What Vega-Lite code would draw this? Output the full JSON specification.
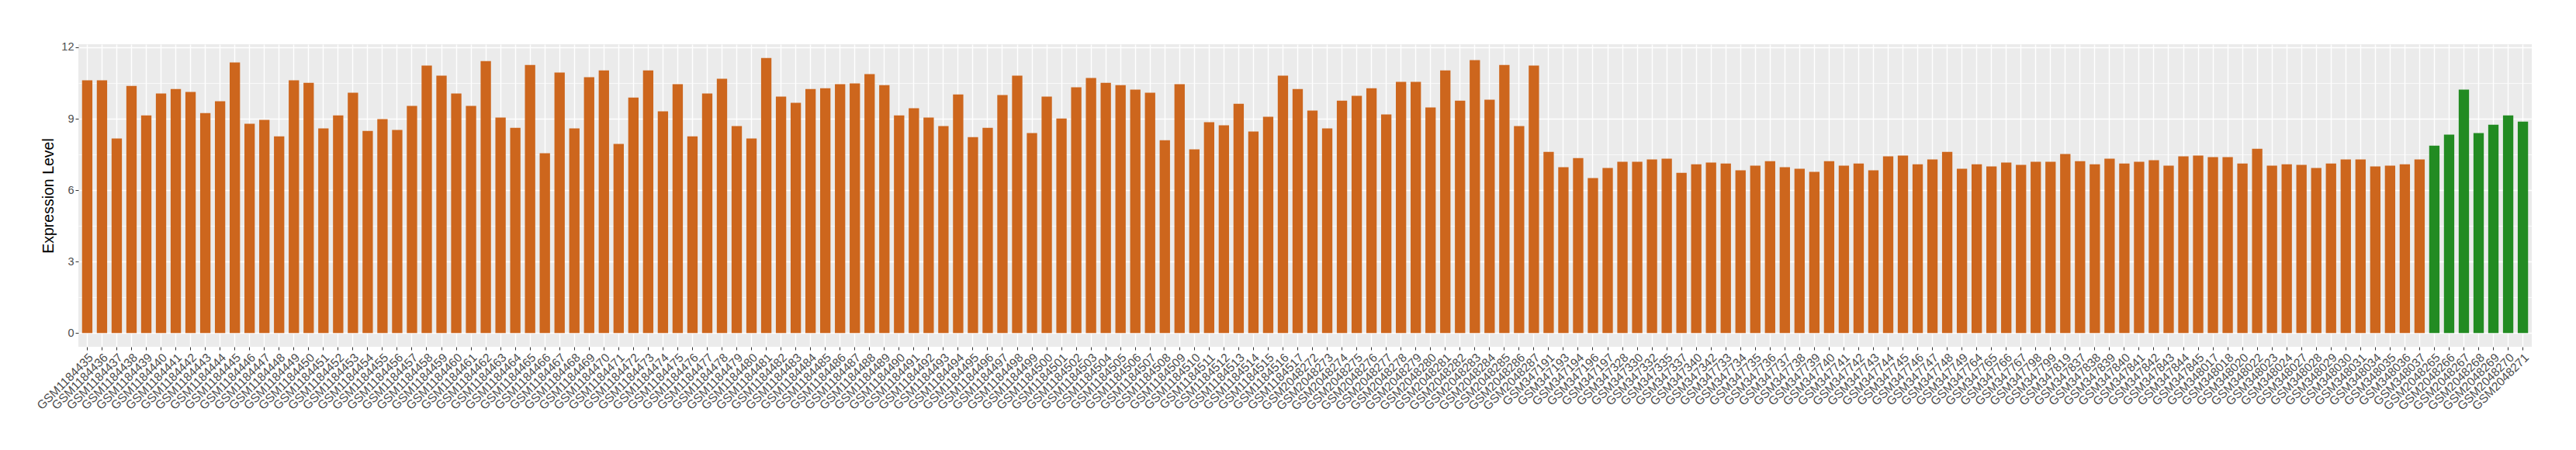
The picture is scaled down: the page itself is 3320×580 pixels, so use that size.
{
  "$schema": "https://vega.github.io/schema/vega-lite/v6.json",
  "autosize": {"type": "none"},
  "padding": {"left": 101, "top": 57, "right": 57, "bottom": 133},
  "width": 3162,
  "height": 390,
  "background": "white",
  "config": {
    "view": {"fill": "#EBEBEB", "stroke": null},
    "font": "Liberation Sans"
  },
  "data": {"values": [
    {"sample": "GSM1184435", "value": 10.61, "group": "A"},
    {"sample": "GSM1184436", "value": 10.61, "group": "A"},
    {"sample": "GSM1184437", "value": 8.17, "group": "A"},
    {"sample": "GSM1184438", "value": 10.38, "group": "A"},
    {"sample": "GSM1184439", "value": 9.14, "group": "A"},
    {"sample": "GSM1184440", "value": 10.06, "group": "A"},
    {"sample": "GSM1184441", "value": 10.25, "group": "A"},
    {"sample": "GSM1184442", "value": 10.12, "group": "A"},
    {"sample": "GSM1184443", "value": 9.24, "group": "A"},
    {"sample": "GSM1184444", "value": 9.73, "group": "A"},
    {"sample": "GSM1184445", "value": 11.36, "group": "A"},
    {"sample": "GSM1184446", "value": 8.79, "group": "A"},
    {"sample": "GSM1184447", "value": 8.95, "group": "A"},
    {"sample": "GSM1184448", "value": 8.26, "group": "A"},
    {"sample": "GSM1184449", "value": 10.61, "group": "A"},
    {"sample": "GSM1184450", "value": 10.51, "group": "A"},
    {"sample": "GSM1184451", "value": 8.59, "group": "A"},
    {"sample": "GSM1184452", "value": 9.14, "group": "A"},
    {"sample": "GSM1184453", "value": 10.09, "group": "A"},
    {"sample": "GSM1184454", "value": 8.49, "group": "A"},
    {"sample": "GSM1184455", "value": 8.98, "group": "A"},
    {"sample": "GSM1184456", "value": 8.53, "group": "A"},
    {"sample": "GSM1184457", "value": 9.54, "group": "A"},
    {"sample": "GSM1184458", "value": 11.23, "group": "A"},
    {"sample": "GSM1184459", "value": 10.81, "group": "A"},
    {"sample": "GSM1184460", "value": 10.06, "group": "A"},
    {"sample": "GSM1184461", "value": 9.54, "group": "A"},
    {"sample": "GSM1184462", "value": 11.42, "group": "A"},
    {"sample": "GSM1184463", "value": 9.05, "group": "A"},
    {"sample": "GSM1184464", "value": 8.62, "group": "A"},
    {"sample": "GSM1184465", "value": 11.26, "group": "A"},
    {"sample": "GSM1184466", "value": 7.55, "group": "A"},
    {"sample": "GSM1184467", "value": 10.94, "group": "A"},
    {"sample": "GSM1184468", "value": 8.59, "group": "A"},
    {"sample": "GSM1184469", "value": 10.74, "group": "A"},
    {"sample": "GSM1184470", "value": 11.03, "group": "A"},
    {"sample": "GSM1184471", "value": 7.94, "group": "A"},
    {"sample": "GSM1184472", "value": 9.89, "group": "A"},
    {"sample": "GSM1184473", "value": 11.03, "group": "A"},
    {"sample": "GSM1184474", "value": 9.31, "group": "A"},
    {"sample": "GSM1184475", "value": 10.45, "group": "A"},
    {"sample": "GSM1184476", "value": 8.26, "group": "A"},
    {"sample": "GSM1184477", "value": 10.06, "group": "A"},
    {"sample": "GSM1184478", "value": 10.68, "group": "A"},
    {"sample": "GSM1184479", "value": 8.69, "group": "A"},
    {"sample": "GSM1184480", "value": 8.17, "group": "A"},
    {"sample": "GSM1184481", "value": 11.55, "group": "A"},
    {"sample": "GSM1184482", "value": 9.93, "group": "A"},
    {"sample": "GSM1184483", "value": 9.67, "group": "A"},
    {"sample": "GSM1184484", "value": 10.25, "group": "A"},
    {"sample": "GSM1184485", "value": 10.28, "group": "A"},
    {"sample": "GSM1184486", "value": 10.45, "group": "A"},
    {"sample": "GSM1184487", "value": 10.48, "group": "A"},
    {"sample": "GSM1184488", "value": 10.87, "group": "A"},
    {"sample": "GSM1184489", "value": 10.41, "group": "A"},
    {"sample": "GSM1184490", "value": 9.14, "group": "A"},
    {"sample": "GSM1184491", "value": 9.44, "group": "A"},
    {"sample": "GSM1184492", "value": 9.05, "group": "A"},
    {"sample": "GSM1184493", "value": 8.69, "group": "A"},
    {"sample": "GSM1184494", "value": 10.02, "group": "A"},
    {"sample": "GSM1184495", "value": 8.23, "group": "A"},
    {"sample": "GSM1184496", "value": 8.62, "group": "A"},
    {"sample": "GSM1184497", "value": 9.99, "group": "A"},
    {"sample": "GSM1184498", "value": 10.81, "group": "A"},
    {"sample": "GSM1184499", "value": 8.40, "group": "A"},
    {"sample": "GSM1184500", "value": 9.93, "group": "A"},
    {"sample": "GSM1184501", "value": 9.01, "group": "A"},
    {"sample": "GSM1184502", "value": 10.32, "group": "A"},
    {"sample": "GSM1184503", "value": 10.71, "group": "A"},
    {"sample": "GSM1184504", "value": 10.51, "group": "A"},
    {"sample": "GSM1184505", "value": 10.41, "group": "A"},
    {"sample": "GSM1184506", "value": 10.22, "group": "A"},
    {"sample": "GSM1184507", "value": 10.09, "group": "A"},
    {"sample": "GSM1184508", "value": 8.10, "group": "A"},
    {"sample": "GSM1184509", "value": 10.45, "group": "A"},
    {"sample": "GSM1184510", "value": 7.71, "group": "A"},
    {"sample": "GSM1184511", "value": 8.85, "group": "A"},
    {"sample": "GSM1184512", "value": 8.72, "group": "A"},
    {"sample": "GSM1184513", "value": 9.63, "group": "A"},
    {"sample": "GSM1184514", "value": 8.46, "group": "A"},
    {"sample": "GSM1184515", "value": 9.08, "group": "A"},
    {"sample": "GSM1184516", "value": 10.81, "group": "A"},
    {"sample": "GSM1184517", "value": 10.25, "group": "A"},
    {"sample": "GSM2048272", "value": 9.34, "group": "A"},
    {"sample": "GSM2048273", "value": 8.59, "group": "A"},
    {"sample": "GSM2048274", "value": 9.76, "group": "A"},
    {"sample": "GSM2048275", "value": 9.96, "group": "A"},
    {"sample": "GSM2048276", "value": 10.28, "group": "A"},
    {"sample": "GSM2048277", "value": 9.18, "group": "A"},
    {"sample": "GSM2048278", "value": 10.55, "group": "A"},
    {"sample": "GSM2048279", "value": 10.55, "group": "A"},
    {"sample": "GSM2048280", "value": 9.47, "group": "A"},
    {"sample": "GSM2048281", "value": 11.03, "group": "A"},
    {"sample": "GSM2048282", "value": 9.76, "group": "A"},
    {"sample": "GSM2048283", "value": 11.46, "group": "A"},
    {"sample": "GSM2048284", "value": 9.80, "group": "A"},
    {"sample": "GSM2048285", "value": 11.26, "group": "A"},
    {"sample": "GSM2048286", "value": 8.69, "group": "A"},
    {"sample": "GSM2048287", "value": 11.23, "group": "A"},
    {"sample": "GSM347191", "value": 7.61, "group": "A"},
    {"sample": "GSM347193", "value": 6.96, "group": "A"},
    {"sample": "GSM347194", "value": 7.35, "group": "A"},
    {"sample": "GSM347196", "value": 6.51, "group": "A"},
    {"sample": "GSM347197", "value": 6.93, "group": "A"},
    {"sample": "GSM347328", "value": 7.19, "group": "A"},
    {"sample": "GSM347330", "value": 7.19, "group": "A"},
    {"sample": "GSM347332", "value": 7.29, "group": "A"},
    {"sample": "GSM347335", "value": 7.32, "group": "A"},
    {"sample": "GSM347337", "value": 6.73, "group": "A"},
    {"sample": "GSM347340", "value": 7.09, "group": "A"},
    {"sample": "GSM347342", "value": 7.16, "group": "A"},
    {"sample": "GSM347733", "value": 7.12, "group": "A"},
    {"sample": "GSM347734", "value": 6.83, "group": "A"},
    {"sample": "GSM347735", "value": 7.03, "group": "A"},
    {"sample": "GSM347736", "value": 7.22, "group": "A"},
    {"sample": "GSM347737", "value": 6.96, "group": "A"},
    {"sample": "GSM347738", "value": 6.90, "group": "A"},
    {"sample": "GSM347739", "value": 6.77, "group": "A"},
    {"sample": "GSM347740", "value": 7.22, "group": "A"},
    {"sample": "GSM347741", "value": 7.03, "group": "A"},
    {"sample": "GSM347742", "value": 7.12, "group": "A"},
    {"sample": "GSM347743", "value": 6.83, "group": "A"},
    {"sample": "GSM347744", "value": 7.42, "group": "A"},
    {"sample": "GSM347745", "value": 7.45, "group": "A"},
    {"sample": "GSM347746", "value": 7.09, "group": "A"},
    {"sample": "GSM347747", "value": 7.29, "group": "A"},
    {"sample": "GSM347748", "value": 7.61, "group": "A"},
    {"sample": "GSM347749", "value": 6.90, "group": "A"},
    {"sample": "GSM347764", "value": 7.09, "group": "A"},
    {"sample": "GSM347765", "value": 7.00, "group": "A"},
    {"sample": "GSM347766", "value": 7.16, "group": "A"},
    {"sample": "GSM347767", "value": 7.06, "group": "A"},
    {"sample": "GSM347798", "value": 7.19, "group": "A"},
    {"sample": "GSM347799", "value": 7.19, "group": "A"},
    {"sample": "GSM347819", "value": 7.52, "group": "A"},
    {"sample": "GSM347837", "value": 7.22, "group": "A"},
    {"sample": "GSM347838", "value": 7.09, "group": "A"},
    {"sample": "GSM347839", "value": 7.32, "group": "A"},
    {"sample": "GSM347840", "value": 7.12, "group": "A"},
    {"sample": "GSM347841", "value": 7.19, "group": "A"},
    {"sample": "GSM347842", "value": 7.26, "group": "A"},
    {"sample": "GSM347843", "value": 7.03, "group": "A"},
    {"sample": "GSM347844", "value": 7.42, "group": "A"},
    {"sample": "GSM347845", "value": 7.45, "group": "A"},
    {"sample": "GSM348017", "value": 7.39, "group": "A"},
    {"sample": "GSM348018", "value": 7.39, "group": "A"},
    {"sample": "GSM348020", "value": 7.12, "group": "A"},
    {"sample": "GSM348022", "value": 7.74, "group": "A"},
    {"sample": "GSM348023", "value": 7.03, "group": "A"},
    {"sample": "GSM348024", "value": 7.09, "group": "A"},
    {"sample": "GSM348027", "value": 7.06, "group": "A"},
    {"sample": "GSM348028", "value": 6.93, "group": "A"},
    {"sample": "GSM348029", "value": 7.12, "group": "A"},
    {"sample": "GSM348030", "value": 7.29, "group": "A"},
    {"sample": "GSM348031", "value": 7.29, "group": "A"},
    {"sample": "GSM348034", "value": 7.00, "group": "A"},
    {"sample": "GSM348035", "value": 7.03, "group": "A"},
    {"sample": "GSM348036", "value": 7.09, "group": "A"},
    {"sample": "GSM348037", "value": 7.29, "group": "A"},
    {"sample": "GSM2048265", "value": 7.87, "group": "B"},
    {"sample": "GSM2048266", "value": 8.33, "group": "B"},
    {"sample": "GSM2048267", "value": 10.22, "group": "B"},
    {"sample": "GSM2048268", "value": 8.40, "group": "B"},
    {"sample": "GSM2048269", "value": 8.75, "group": "B"},
    {"sample": "GSM2048270", "value": 9.14, "group": "B"},
    {"sample": "GSM2048271", "value": 8.88, "group": "B"}
  ]},
  "mark": {"type": "bar"},
  "encoding": {
    "x": {
      "field": "sample",
      "type": "nominal",
      "sort": null,
      "scale": {"paddingInner": 0.3, "paddingOuter": 0.25},
      "axis": {
        "title": null,
        "bandPosition": 0.5,
        "domain": false,
        "grid": true,
        "gridColor": "white",
        "gridWidth": 1.4,
        "tickColor": "#333333",
        "tickSize": 4,
        "tickWidth": 1,
        "labelAngle": -45,
        "labelAlign": "right",
        "labelBaseline": "top",
        "labelPadding": 2,
        "labelFont": "Liberation Sans",
        "labelFontSize": 15.5,
        "labelColor": "#4D4D4D",
        "labelOverlap": false,
        "labelBound": false,
        "labelFlush": false
      }
    },
    "y": {
      "field": "value",
      "type": "quantitative",
      "scale": {"domain": [-0.5775, 12.1275], "nice": false, "zero": false},
      "axis": {
        "title": "Expression Level",
        "titleFont": "Liberation Sans",
        "titleFontSize": 19.5,
        "titleFontWeight": "normal",
        "titleColor": "black",
        "titlePadding": 6,
        "values": [0, 1.5, 3, 4.5, 6, 7.5, 9, 10.5, 12],
        "domain": false,
        "grid": true,
        "gridColor": "white",
        "gridWidth": {"condition": {"test": "datum.value % 3 !== 0", "value": 0.7}, "value": 1.4},
        "tickColor": "#333333",
        "tickSize": 4,
        "tickWidth": 1,
        "tickOpacity": {"condition": {"test": "datum.value % 3 !== 0", "value": 0}, "value": 1},
        "labelExpr": "datum.value % 3 === 0 ? datum.label : ''",
        "labelPadding": 2,
        "labelFont": "Liberation Sans",
        "labelFontSize": 14.5,
        "labelColor": "#4D4D4D"
      }
    },
    "y2": {"datum": 0},
    "color": {
      "field": "group",
      "type": "nominal",
      "scale": {"domain": ["A", "B"], "range": ["#CD661D", "#228B22"]},
      "legend": null
    }
  }
}
